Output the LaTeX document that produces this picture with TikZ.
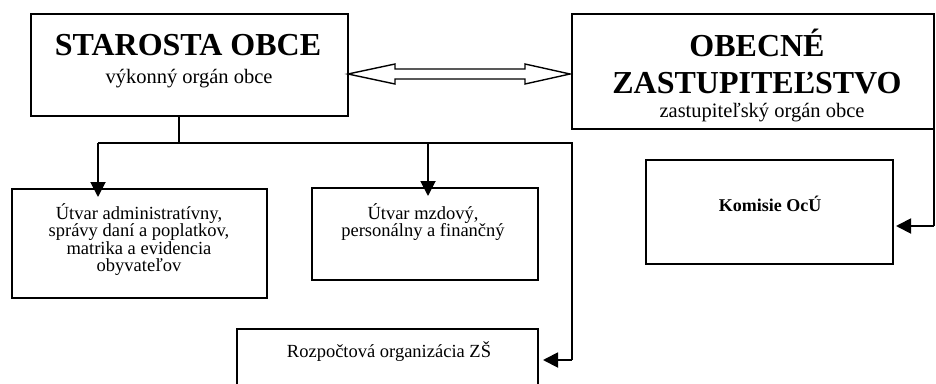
\documentclass[tikz,border=0pt]{standalone}
\usepackage{fontspec}
\setmainfont{Liberation Serif}
\usetikzlibrary{arrows.meta,calc}
\begin{document}
\begin{tikzpicture}[x=1pt,y=-1pt,
  box/.style={draw, line width=1.7pt, inner sep=0pt, outer sep=0pt},
  title/.style={font=\fontsize{32}{36}\selectfont\bfseries, inner sep=0pt},
  sub/.style={font=\fontsize{20.5}{24}\selectfont, inner sep=0pt},
  body/.style={font=\fontsize{18.5}{17.6}\selectfont, inner sep=0pt, align=center},
  bodyb/.style={font=\fontsize{18}{20}\selectfont\bfseries, inner sep=0pt},
  conn/.style={line width=1.9pt},
  arr/.style={conn, -{Triangle[length=15pt,width=15pt]}}]
\useasboundingbox (0,0) rectangle (936,383);
\clip (0,0) rectangle (936,383);

% boxes
\node[box, minimum width=317pt, minimum height=102pt] (star) at (189.5,65) {};
\node[box, minimum width=362pt, minimum height=115pt] (zast) at (753,71.5) {};
\node[box, minimum width=255pt, minimum height=109pt] (adm) at (139.5,243.5) {};
\node[box, minimum width=226pt, minimum height=92pt] (mzd) at (425,234) {};
\node[box, minimum width=301pt, minimum height=80pt] (roz) at (387.5,369) {};
\node[box, minimum width=247pt, minimum height=104pt] (kom) at (769.5,212) {};

% texts
\node[title, anchor=base] (t1) at (188,55) {STAROSTA OBCE};
\node[sub, anchor=base] (t2) at (189,83) {výkonný orgán obce};
\node[title, anchor=base] (t3) at (757,56) {OBECNÉ};
\node[title, anchor=base] (t4) at (757,93) {ZASTUPITEĽSTVO};
\node[sub, anchor=base] (t5) at (762,117) {zastupiteľský orgán obce};
\node[body, anchor=north] (t6) at (139,203) {Útvar administratívny,\\správy daní a poplatkov,\\matrika a evidencia\\obyvateľov};
\node[body, anchor=north] (t7) at (423,203) {Útvar mzdový,\\personálny a finančný};
\node[body, anchor=base] (t8) at (389,357) {Rozpočtová organizácia ZŠ};
\node[bodyb, anchor=base] (t9) at (770,211) {Komisie OcÚ};

% double hollow arrow
\coordinate (dl) at ($(star.north east)+(0,60)$);
\coordinate (dr) at ($(zast.north west)+(-2,60)$);
\draw[line width=1.4pt, line join=miter, fill=white]
  (dl) -- ++(47,-10) -- ++(0,5) -- ($(dr)+(-45,-5)$) -- ++(0,-5) -- (dr)
  -- ++(-45,10) -- ++(0,-5) -- ($(dl)+(47,5)$) -- ++(0,5) -- cycle;

% tree from starosta
\coordinate (j0) at ($(star.south)+(-10.5,27)$);
\coordinate (jl) at (98,143);
\coordinate (jm) at (428,143);
\coordinate (jr) at (572,143);
\coordinate (jrb) at (572,360);
\draw[conn] (star.south -| j0) -- (j0);
\draw[conn] (jl) -- (jr) -- (jrb);
\draw[arr, shorten >=-8pt] (jl) -- (jl |- adm.north);
\draw[arr, shorten >=-8pt] (jm) -- (jm |- mzd.north);
\draw[arr, shorten >=5pt] (jrb) -- (jrb -| roz.east);

% zastupitelstvo to komisie
\coordinate (kr) at (934,226);
\draw[conn] (zast.south east -| kr) -- (kr);
\draw[arr, shorten >=3pt] (kr) -- (kr -| kom.east);
\end{tikzpicture}
\end{document}
